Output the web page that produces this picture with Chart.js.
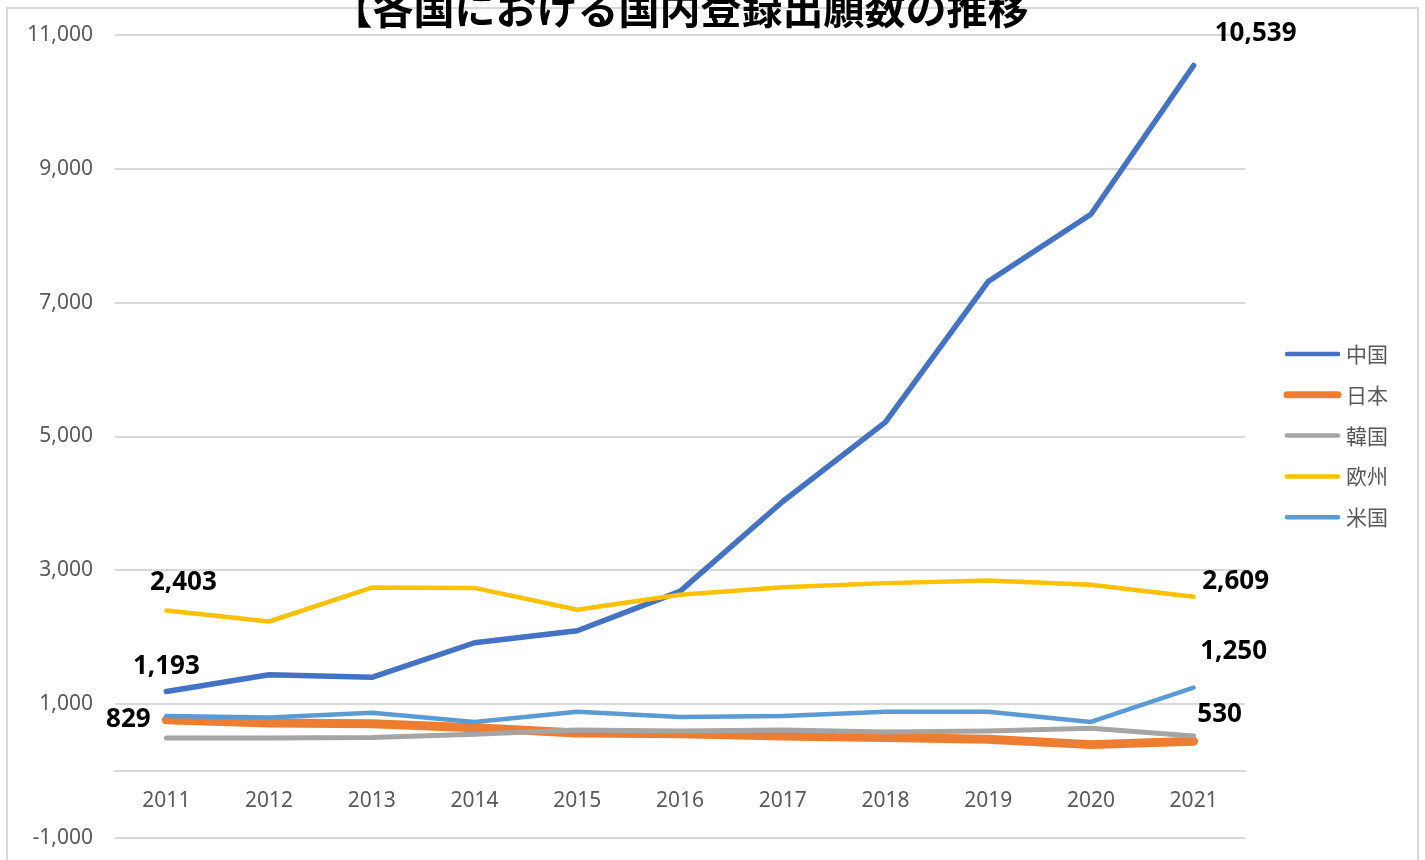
<!DOCTYPE html>
<html lang="ja">
<head>
<meta charset="utf-8">
<title>各国における国内登録出願数の推移</title>
<script src="https://cdn.jsdelivr.net/npm/chart.js@4.4.1/dist/chart.umd.min.js"></script>
<style>
  html, body { margin: 0; padding: 0; background: #fff; overflow: hidden; }
  #wrap { width: 1425px; height: 860px; overflow: hidden; }
  canvas { display: block; }
</style>
</head>
<body>
<div id="wrap"><canvas id="chart" width="1425" height="873"></canvas></div>
<script>
// データ
const years = ["2011", "2012", "2013", "2014", "2015", "2016", "2017", "2018", "2019", "2020", "2021"];
const china  = [1193, 1444, 1404, 1921, 2100, 2687, 4030, 5214, 7313, 8318, 10539];
const japan  = [770, 723, 713, 653, 574, 564, 530, 505, 480, 400, 450];
const korea  = [500, 500, 505, 554, 619, 604, 619, 589, 604, 643, 530];
const europe = [2403, 2238, 2745, 2740, 2413, 2637, 2751, 2811, 2851, 2786, 2609];
const usa    = [829, 804, 876, 738, 891, 812, 827, 891, 891, 738, 1250];
const yTicks = [-1000, 1000, 3000, 5000, 7000, 9000, 11000];

const titleText = "【各国における国内登録出願数の推移";

// 値ラベル: [dataset, point, dx, dy]
const callouts = [
    [0, 0, 0, -25], [0, 10, 62, -32],
    [3, 0, 17, -28], [3, 10, 42, -15],
    [4, 0, -38, 4], [4, 10, 40, -36],
    [2, 10, 26, -21],
];

const tickColor = "#595959";
const gridColor = "#d9d9d9";
const tickFont = { family: "'Noto Sans', sans-serif", size: 21 };

function series(label, data, color, width, order) {
    return {
        label, data,
        borderColor: color, backgroundColor: color,
        borderWidth: width, order,
        pointRadius: 0, pointHoverRadius: 0,
        tension: 0, fill: false,
        borderCapStyle: "round", borderJoinStyle: "round",
    };
}

const decorPlugin = {
    id: "decor",
    beforeDraw(chart) {
        const ctx = chart.ctx;
        ctx.save();
        ctx.fillStyle = "#fff";
        ctx.fillRect(0, 0, chart.width, chart.height);
        // 枠線
        ctx.strokeStyle = gridColor;
        ctx.lineWidth = 2;
        ctx.strokeRect(7, 8, 1411, 900);
        ctx.restore();
    },
    afterDatasetsDraw(chart) {
        const ctx = chart.ctx;
        ctx.save();
        // 値ラベル
        ctx.fillStyle = "#000";
        ctx.font = "bold 26px 'Noto Sans', sans-serif";
        ctx.textAlign = "center";
        ctx.textBaseline = "middle";
        callouts.forEach(([di, pi, dx, dy]) => {
            const pt = chart.getDatasetMeta(di).data[pi];
            const v = chart.data.datasets[di].data[pi];
            ctx.fillText(v.toLocaleString("en-US"), pt.x + dx, pt.y + dy);
        });

        // 凡例
        ctx.font = "21px 'Noto Sans CJK JP', sans-serif";
        ctx.textAlign = "left";
        chart.data.datasets.forEach((ds, i) => {
            const y = 354 + i * 40.8;
            ctx.strokeStyle = ds.borderColor;
            ctx.lineWidth = ds.borderWidth > 6 ? 7 : 4.5;
            ctx.lineCap = "round";
            ctx.beginPath();
            ctx.moveTo(1287, y);
            ctx.lineTo(1338, y);
            ctx.stroke();
            ctx.fillStyle = tickColor;
            ctx.fillText(ds.label, 1346, y);
        });

        // タイトル
        ctx.fillStyle = "#000";
        ctx.font = "bold 41px 'Noto Sans CJK JP', sans-serif";
        ctx.textAlign = "center";
        ctx.textBaseline = "alphabetic";
        ctx.fillText(titleText, 680, 24);
        ctx.restore();
    },
};

new Chart(document.getElementById("chart"), {
    type: "line",
    data: {
        labels: years,
        datasets: [
            series("中国", china, "#4472C4", 5.5, 5),
            series("日本", japan, "#ED7D31", 9, 4),
            series("韓国", korea, "#A5A5A5", 5, 3),
            series("欧州", europe, "#FFC000", 4.5, 2),
            series("米国", usa, "#5B9BD5", 4.5, 1),
        ],
    },
    options: {
        responsive: false,
        animation: false,
        layout: { padding: { left: 10, right: 180, top: 33, bottom: 21 } },
        plugins: {
            legend: { display: false },
            title: { display: false },
            tooltip: { enabled: false },
        },
        scales: {
            x: {
                position: { y: 0 },
                offset: true,
                grid: { display: false, drawTicks: false },
                border: { display: true, color: gridColor, width: 2 },
                ticks: { color: tickColor, font: tickFont, padding: 17, maxRotation: 0 },
            },
            y: {
                min: -1000,
                max: 11000,
                afterBuildTicks: (s) => { s.ticks = yTicks.map((v) => ({ value: v })); },
                afterFit: (s) => { s.width = 105; },
                grid: { color: gridColor, lineWidth: 2, drawTicks: false },
                border: { display: false },
                ticks: {
                    color: tickColor, font: tickFont, padding: 22,
                    callback: (v) => v.toLocaleString("en-US"),
                },
            },
        },
    },
    plugins: [decorPlugin],
});
</script>
</body>
</html>
